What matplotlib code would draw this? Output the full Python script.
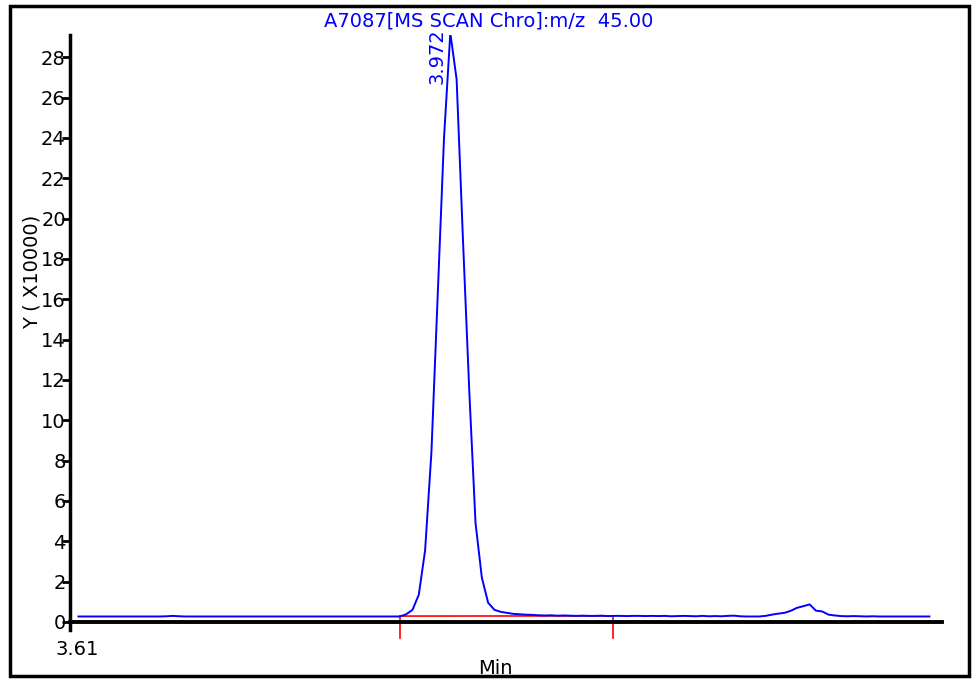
import numpy as np
import matplotlib
matplotlib.use("Agg")
import matplotlib.pyplot as plt
from matplotlib.patches import Rectangle

# Chromatogram trace: intensity in units of 10000, one scan every 0.006 min
t_start = 3.618
scan_step = 0.006
intensity = [
    # 3.618 - 3.918 (flat baseline)
    0.27, 0.27, 0.27, 0.27, 0.27, 0.27, 0.27, 0.27, 0.27, 0.27,
    0.27, 0.27, 0.27, 0.27, 0.28, 0.30, 0.28, 0.27, 0.27, 0.27,
    0.27, 0.27, 0.27, 0.27, 0.27, 0.27, 0.27, 0.27, 0.27, 0.27,
    0.27, 0.27, 0.27, 0.27, 0.27, 0.27, 0.27, 0.27, 0.27, 0.27,
    0.27, 0.27, 0.27, 0.27, 0.27, 0.27, 0.27, 0.27, 0.27, 0.27,
    0.27,
    # main peak
    0.27, 0.38, 0.60, 1.35, 3.55, 8.40, 16.2, 24.0, 29.2, 26.9,
    19.0, 11.5, 4.90, 2.20, 0.95, 0.60, 0.50, 0.45, 0.40, 0.38,
    # tail
    0.36, 0.35, 0.33, 0.32, 0.33, 0.31, 0.32, 0.31, 0.30, 0.31,
    0.30, 0.30, 0.31, 0.29, 0.30, 0.30, 0.29, 0.30, 0.30, 0.29,
    0.30, 0.29, 0.30, 0.28, 0.29, 0.30, 0.29, 0.28, 0.30, 0.28,
    0.29, 0.28, 0.30, 0.31, 0.28, 0.27, 0.27, 0.27, 0.30, 0.36,
    0.41, 0.45, 0.55, 0.70, 0.78, 0.87, 0.56, 0.52, 0.36, 0.32,
    0.29, 0.28, 0.29, 0.28, 0.27, 0.28, 0.27, 0.27, 0.27, 0.27,
    0.27, 0.27, 0.27, 0.27, 0.27,
]
times = t_start + scan_step * np.arange(len(intensity))

peak_time = 3.972
peak_label = "3.972"
integ_start, integ_end = 3.924, 4.127
integ_base = [0.29, 0.30]

y_ticks = list(range(0, 29, 2))
x_min, x_max = 3.61, 4.44
title = "A7087[MS SCAN Chro]:m/z  45.00"

fig = plt.figure(figsize=(9.72, 6.79), dpi=100)
plt.rcParams['font.family'] = ['DejaVu Sans']

W, H = 972, 679
ax_l, ax_r, ax_t, ax_b = 70, 942, 35, 630
ax = fig.add_axes([ax_l / W, 1 - ax_b / H, (ax_r - ax_l) / W, (ax_b - ax_t) / H])

ax.plot(times, intensity, color="#0000ff", lw=1.4, zorder=3)

# integration baseline and boundary markers
ax.plot([integ_start, integ_end], integ_base, color="#ff0000", lw=1.2, zorder=2)
for tx, by in zip([integ_start, integ_end], integ_base):
    ax.plot([tx, tx], [by, -0.8], color="#ff0000", lw=1.2, clip_on=False, zorder=2)

ax.set_xlim(x_min, x_max)
ax.set_ylim(-0.4, 29.1)

for s in ["top", "right"]:
    ax.spines[s].set_visible(False)
ax.spines["bottom"].set_position(("data", 0))
ax.spines["left"].set_linewidth(2.5)
ax.spines["bottom"].set_linewidth(2.8)

ax.set_yticks(y_ticks)
ax.set_yticklabels([str(v) for v in y_ticks])
ax.tick_params(axis="y", direction="out", length=6, width=2, pad=-3, labelsize=14)
ax.set_xticks([])

ax.text(55 / W, 1 - 640 / H, "3.61", ha="left", va="top", fontsize=14,
        transform=fig.transFigure)
ax.text(495 / W, 1 - 668 / H, "Min", ha="center", va="center", fontsize=14,
        transform=fig.transFigure)
ax.text(32 / W, 1 - 272 / H, "Y ( X10000)", rotation=90, ha="center",
        va="center", fontsize=14, transform=fig.transFigure)

ax.text(0.503, 1 - 21 / H, title, ha="center", va="center", fontsize=14,
        color="#0000ff", transform=fig.transFigure)
ax.text(peak_time - 0.004, 29.45, peak_label, rotation=90, ha="right", va="top",
        fontsize=14, color="#0000ff", clip_on=False)

fig.patches.append(Rectangle((10 / W, 1 - 676 / H), 959 / W, 670 / H,
                             transform=fig.transFigure, fill=False,
                             edgecolor="black", lw=2.5, zorder=10))

fig.savefig("out.png", dpi=100)
